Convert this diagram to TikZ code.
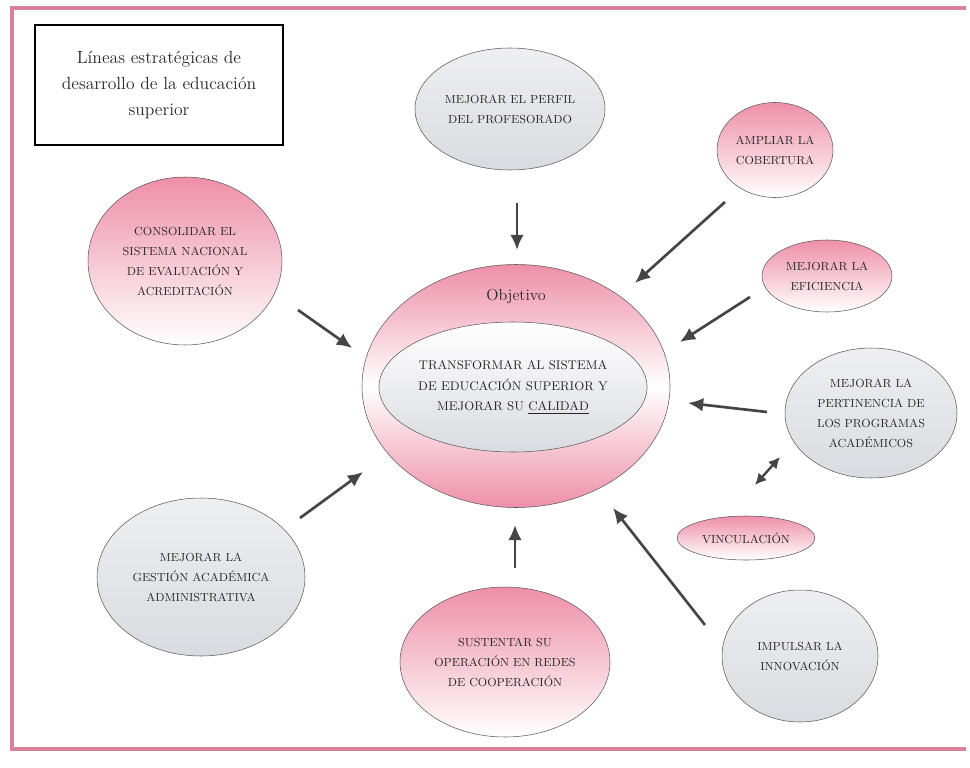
\documentclass[tikz,border=0pt]{standalone}
\usepackage{tikz}
\usetikzlibrary{arrows.meta,positioning,shapes.geometric}
\definecolor{LinPink}{HTML}{EE8FA8}
\definecolor{LinRose}{HTML}{D9809B}
\definecolor{LinGray}{HTML}{DADBE0}
\definecolor{LinInk}{HTML}{262626}
\definecolor{LinArrow}{HTML}{454545}

\begin{document}
\begin{tikzpicture}[x=0.75pt,y=-0.75pt,
    every node/.style={align=center,text=LinInk},
    sz/.style 2 args={minimum width=#1*0.75pt,minimum height=#2*0.75pt},
    blob/.style={ellipse,draw=black!65,thin,inner sep=0pt,font=\fontsize{8.8}{15}\selectfont},
    pinkblob/.style={blob,top color=LinPink,bottom color=white},
    grayblob/.style={blob,top color=LinGray!45,bottom color=LinGray},
    arr/.style={-{Latex[length=4mm,width=3.6mm]},line width=2pt,LinArrow}]
  \useasboundingbox (0,0) rectangle (970,767);
  % frame
  \draw[LinRose,line width=2.4pt] (966,8) -- (12,8) -- (12,749) -- (966,749);
  \node[draw,line width=1.2pt,sz={248}{120},font=\fontsize{13.2}{19.5}\selectfont] (title) at (159,85) {Líneas estratégicas de\\desarrollo de la educación\\superior};

  % central objective
  \node[ellipse,draw=black!65,thin,sz={308}{243},top color=LinPink,bottom color=LinPink,middle color=white] (obj) at (516,386) {};
  \node[font=\fontsize{12}{14}\selectfont] (objlbl) at (516,296) {Objetivo};
  \node[blob,sz={253}{130},top color=white,bottom color=LinGray,font=\fontsize{9.4}{15.5}\selectfont] (core) at (513,387) {TRANSFORMAR AL SISTEMA\\DE EDUCACIÓN SUPERIOR Y\\MEJORAR SU \underline{CALIDAD}};

  % strategic lines
  \node[grayblob,sz={190}{122}] (perfil) at (510,109) {MEJORAR EL PERFIL\\DEL PROFESORADO};
  \node[pinkblob,sz={116}{95}] (ampliar) at (775,150) {AMPLIAR LA\\COBERTURA};
  \node[pinkblob,sz={130}{72}] (eficiencia) at (827,276) {MEJORAR LA\\EFICIENCIA};
  \node[pinkblob,sz={194}{168}] (consolidar) at (185,261) {CONSOLIDAR EL\\SISTEMA NACIONAL\\DE EVALUACIÓN Y\\ACREDITACIÓN};
  \node[grayblob,sz={172}{130}] (pertinencia) at (871,413) {MEJORAR LA\\PERTINENCIA DE\\LOS PROGRAMAS\\ACADÉMICOS};
  \node[pinkblob,sz={138}{44}] (vinculacion) at (746,538) {VINCULACIÓN};
  \node[grayblob,sz={208}{158}] (gestion) at (201,577) {MEJORAR LA\\GESTIÓN ACADÉMICA\\ADMINISTRATIVA};
  \node[pinkblob,sz={210}{150}] (sustentar) at (505,662) {SUSTENTAR SU\\OPERACIÓN EN REDES\\DE COOPERACIÓN};
  \node[grayblob,sz={156}{132}] (impulsar) at (800,656) {IMPULSAR LA\\INNOVACIÓN};

  % arrow ends
  \coordinate (perfS) at (517,203);   \coordinate (perfT) at (517,250);
  \coordinate (amplS) at (725,202);   \coordinate (amplT) at (635,283);
  \coordinate (eficS) at (750,297);   \coordinate (eficT) at (680,342);
  \coordinate (pertS) at (767,412);   \coordinate (pertT) at (688,403);
  \coordinate (innoS) at (705,625);   \coordinate (innoT) at (613,508);
  \coordinate (sustS) at (515,568);   \coordinate (sustT) at (515,525);
  \coordinate (gestS) at (300,518);   \coordinate (gestT) at (363,472);
  \coordinate (consS) at (298,310);   \coordinate (consT) at (352,348);
  \coordinate (vincA) at (755,485);   \coordinate (vincB) at (780,457);
  \foreach \x in {perf,ampl,efic,pert,inno,sust,gest,cons}{\draw[arr] (\x S)--(\x T);}
  \draw[{Latex[length=3mm,width=3mm]}-{Latex[length=3mm,width=3mm]},line width=1.8pt,LinArrow] (vincA) -- (vincB);
\end{tikzpicture}
\end{document}
